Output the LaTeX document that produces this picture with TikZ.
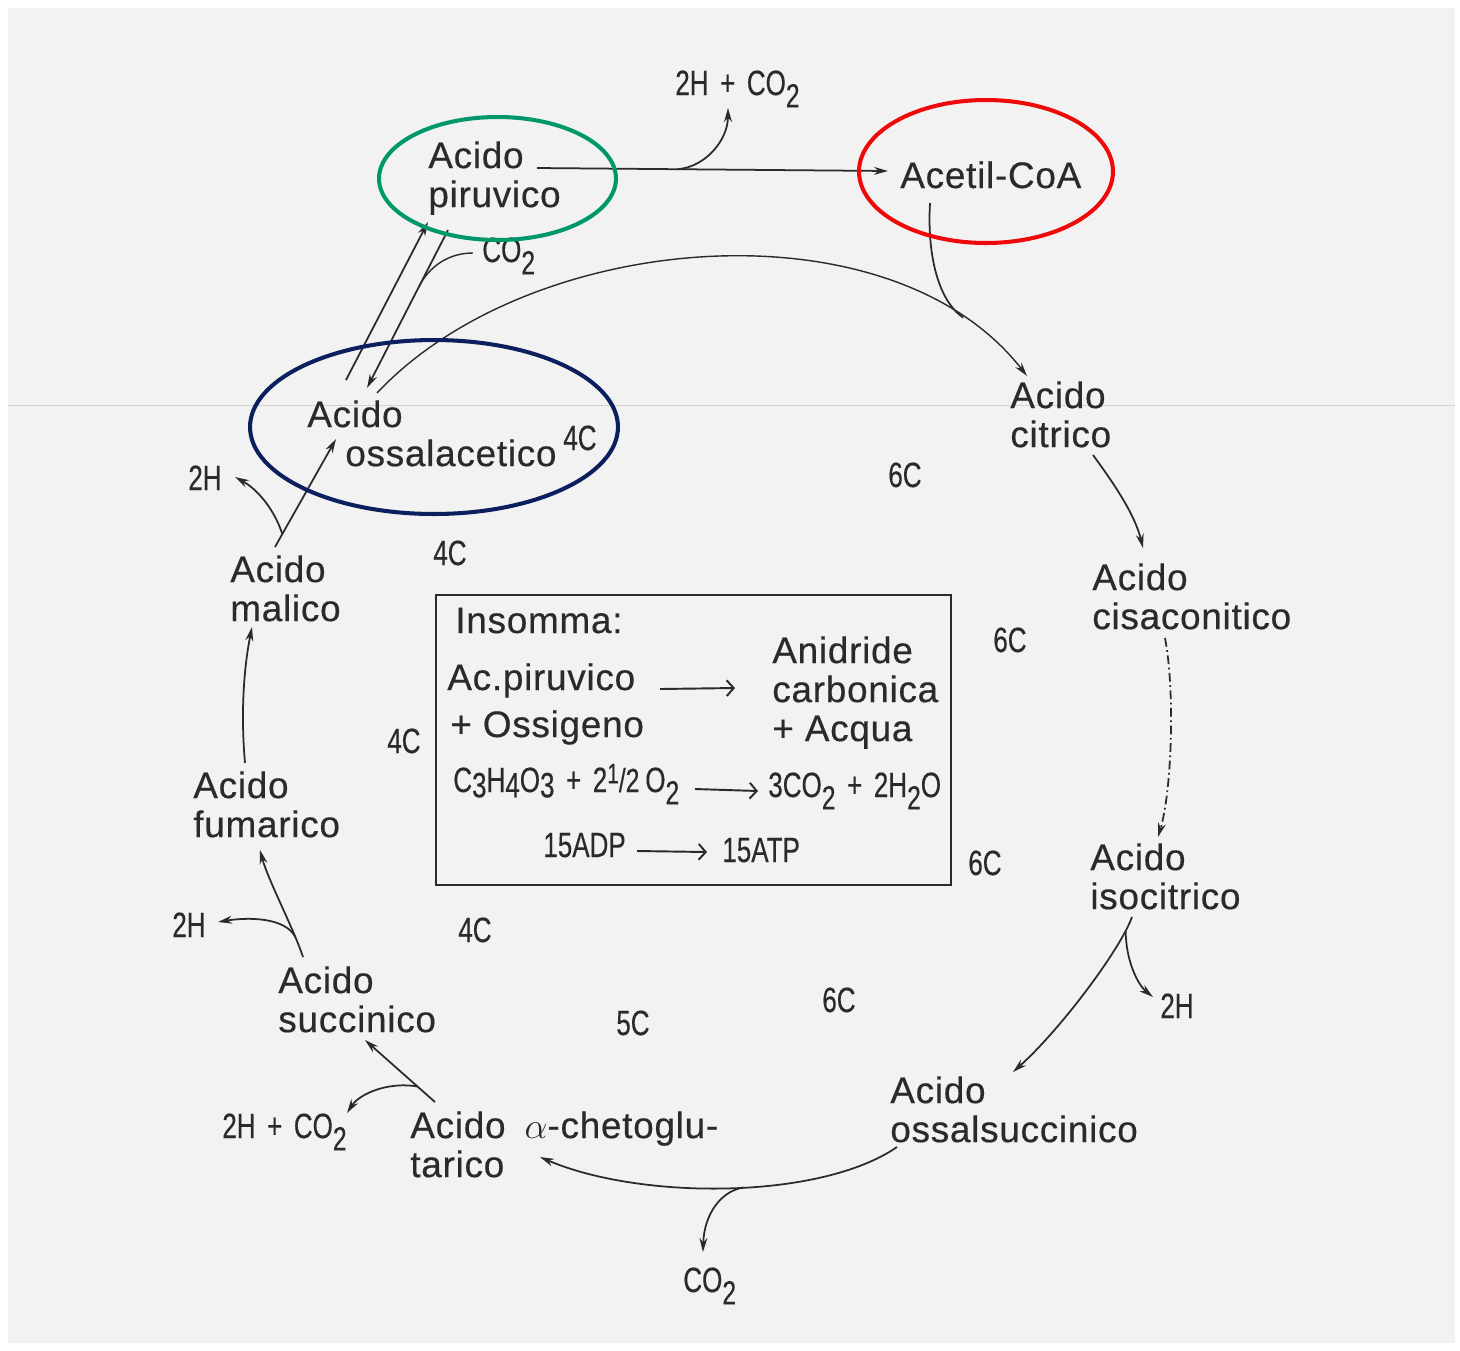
\documentclass[tikz,border=0pt]{standalone}
\usepackage{fontspec}
\setmainfont{Liberation Sans}[FakeBold=0.4, LetterSpace=2]
\newfontfamily\condfont[FakeStretch=0.74, FakeBold=0.3, WordSpace=1.6]{Liberation Sans}
\usepackage{tikz}
\usetikzlibrary{arrows.meta, positioning, calc}
\definecolor{ink}{HTML}{2A2A2A}
\definecolor{scan}{HTML}{F2F2F2}
\definecolor{pirgreen}{HTML}{00976B}
\definecolor{acred}{HTML}{EE0A0A}
\definecolor{ossblue}{HTML}{0B1F5E}
\newcommand{\lowsub}[1]{\raisebox{-7pt}{\fontsize{19}{19}\selectfont #1}}
\newcommand{\midsub}[1]{\raisebox{-3pt}{\fontsize{20}{20}\selectfont #1}}

\begin{document}
\begin{tikzpicture}[x=0.02cm, y=-0.02cm,
  acid/.style={inner sep=0pt, anchor=north west, align=left, text=ink,
    font=\fontsize{21}{22.2}\selectfont},
  cnum/.style={inner sep=0pt, anchor=base west, text=ink,
    font=\condfont\fontsize{20}{22}\selectfont},
  arrow/.style={-{Stealth[length=8pt,width=4.5pt]}, line width=1pt, ink},
  flow/.style={line width=1pt, ink},
  boxarrow/.style={-{Straight Barb[length=4pt,width=9pt]}, line width=1.1pt, ink},
  ring/.style={line width=2.3pt}
]
  \useasboundingbox (0,0) rectangle (1460,1350);
  \fill[white] (0,0) rectangle (1460,1350);
  \fill[scan] (8,8) rectangle (1455,1343);
  \draw[gray!35, line width=0.5pt] (8,405) -- (1455,405);

  % acids of the cycle
  \node[acid] (pir) at (428,141) {Acido\\piruvico};
  \node[acid, anchor=base west] (acetil) at (900,188) {Acetil-CoA};
  \node[acid] (oss) at (307,400) {Acido\\\hspace*{0.76cm}ossalacetico};
  \node[acid] (cit) at (1010,381) {Acido\\citrico};
  \node[acid] (cis) at (1092,563) {Acido\\cisaconitico};
  \node[acid] (iso) at (1090,843) {Acido\\isocitrico};
  \node[acid] (ossuc) at (890,1076) {Acido\\ossalsuccinico};
  \node[acid] (akg) at (410,1111) {Acido\hspace{0.38cm}$\alpha$-chetoglu-\\tarico};
  \node[acid] (suc) at (278,966) {Acido\\succinico};
  \node[acid] (fum) at (193,771) {Acido\\fumarico};
  \node[acid] (mal) at (230,555) {Acido\\malico};

  % what leaves the cycle
  \node[cnum] (topout) at (675,95) {2H + CO\lowsub{2}};
  \node[cnum] (co2a) at (482,262) {CO\lowsub{2}};
  \node[cnum] (isoh) at (1160,1018) {2H};
  \node[cnum] (co2b) at (683,1292) {CO\lowsub{2}};
  \node[cnum] (akgout) at (222,1138) {2H + CO\lowsub{2}};
  \node[cnum] (such) at (172,937) {2H};
  \node[cnum] (malh) at (188,490) {2H};

  % carbon atoms
  \node[cnum] (c4a) at (563,450) {4C};
  \node[cnum] (c6a) at (888,487) {6C};
  \node[cnum] (c6b) at (993,652) {6C};
  \node[cnum] (c6c) at (968,875) {6C};
  \node[cnum] (c6d) at (822,1012) {6C};
  \node[cnum] (c5) at (616,1035) {5C};
  \node[cnum] (c4b) at (458,942) {4C};
  \node[cnum] (c4c) at (387,753) {4C};
  \node[cnum] (c4d) at (433,565) {4C};

  % piruvico -> acetil-CoA
  \draw[arrow] ([shift={(109,27)}]pir.north west) -- coordinate[pos=0.4] (pirfork) ([shift={(-12,-17)}]acetil.base west);
  \draw[arrow] (pirfork) .. controls +(28,-2) and +(0,32) .. ([shift={(53,13)}]topout.base west);

  % ossalacetico <-> piruvico
  \draw[arrow] ([shift={(39,-20)}]oss.north west) -- ([shift={(0,81)}]pir.north west);
  \draw[arrow] ([shift={(20,89)}]pir.north west) -- coordinate[pos=0.36] (pirco) ([shift={(60,-12)}]oss.north west);
  \draw[flow, line width=0.8pt] ([shift={(-9,-9)}]co2a.base west) .. controls +(-25,0) and +(10,-20) .. (pirco);

  % ossalacetico + acetil-CoA -> citrico
  \draw[arrow, line width=0.8pt] ([shift={(70,-7)}]oss.north west) .. controls (530,230) and (890,200) .. coordinate[pos=0.87] (citjoin) ([shift={(17,-5)}]cit.north west);
  \draw[flow] ([shift={(30,15)}]acetil.base west) .. controls +(-3,52) and +(-25,-17) .. (citjoin);

  \draw[arrow] ([shift={(83,74)}]cit.north west) .. controls +(22,30) and +(-8,-33) .. ([shift={(51,-15)}]cis.north west);
  \draw[arrow, dash pattern=on 5pt off 2pt on 1pt off 2pt] ([shift={(73,75)}]cis.north west) .. controls +(10,52) and +(14,-47) .. ([shift={(68,-6)}]iso.north west);

  \draw[arrow] ([shift={(42,74)}]iso.north west) .. controls +(-12,33) and +(47,-42) .. coordinate[pos=0.12] (isofork) ([shift={(123,-4)}]ossuc.north west);
  \draw[arrow] (isofork) .. controls +(0,30) and +(-15,-12) .. ([shift={(-7,-21)}]isoh.base west);

  \draw[arrow] ([shift={(7,71)}]ossuc.north west) .. controls (820,1200) and (640,1200) .. coordinate[pos=0.46] (ossfork) ([shift={(130,46)}]akg.north west);
  \draw[arrow] (ossfork) .. controls +(-23,4) and +(1,-37) .. ([shift={(20,-40)}]co2b.base west);

  \draw[arrow] ([shift={(25,-9)}]akg.north west) -- coordinate[pos=0.25] (akgfork) ([shift={(87,74)}]suc.north west);
  \draw[arrow] (akgfork) .. controls +(-28,-5) and +(13,-20) .. ([shift={(125,-25)}]akgout.base west);

  \draw[arrow] ([shift={(25,-9)}]suc.north west) .. controls +(-10,-30) and +(8,30) .. coordinate[pos=0.2] (sucfork) ([shift={(67,79)}]fum.north west);
  \draw[arrow] (sucfork) .. controls +(-10,-20) and +(30,-5) .. ([shift={(46,-15)}]such.base west);

  \draw[arrow] ([shift={(52,-8)}]fum.north west) .. controls +(-4,-45) and +(-9,45) .. ([shift={(22,72)}]mal.north west);

  \draw[arrow] ([shift={(45,-8)}]mal.north west) -- coordinate[pos=0.12] (malfork) ([shift={(29,39)}]oss.north west);
  \draw[arrow] (malfork) .. controls +(-8,-25) and +(22,12) .. ([shift={(47,-13)}]malh.base west);

  % summary box
  \draw[ink, line width=1.3pt] (436,595) rectangle (951,885);
  \node[acid, anchor=base west] (insomma) at (455,633) {Insomma:};
  \node[acid, anchor=base west] (acpir) at (447,690) {Ac.piruvico};
  \node[acid, anchor=base west] (ossig) at (450,737) {+ Ossigeno};
  \node[acid] (anid) at (772,636) {Anidride\\carbonica\\+ Acqua};
  \node[cnum] (react) at (453,792) {C\midsub{3}H\midsub{4}O\midsub{3} + 2\raisebox{5pt}{\fontsize{16}{16}\selectfont 1}{\fontsize{19}{19}\selectfont/2}\,O\lowsub{2}};
  \node[cnum] (prod) at (768,797) {3CO\lowsub{2} + 2H\lowsub{2}O};
  \node[cnum] (adp) at (543,857) {15ADP};
  \node[cnum] (atp) at (722,862) {15ATP};
  \draw[boxarrow] ([shift={(213,-1)}]acpir.base west) -- ([shift={(-37,52)}]anid.north west);
  \draw[boxarrow] ([shift={(242,-3)}]react.base west) -- ([shift={(-10,-6)}]prod.base west);
  \draw[boxarrow] ([shift={(94,-6)}]adp.base west) -- ([shift={(-15,-10)}]atp.base west);

  % highlights
  \draw[ring, pirgreen] (497.5,178.5) ellipse [x radius=2.37cm, y radius=1.23cm];
  \draw[ring, acred] (986,171.5) ellipse [x radius=2.54cm, y radius=1.43cm];
  \draw[ring, ossblue] (434,427) ellipse [x radius=3.68cm, y radius=1.74cm];
\end{tikzpicture}
\end{document}
